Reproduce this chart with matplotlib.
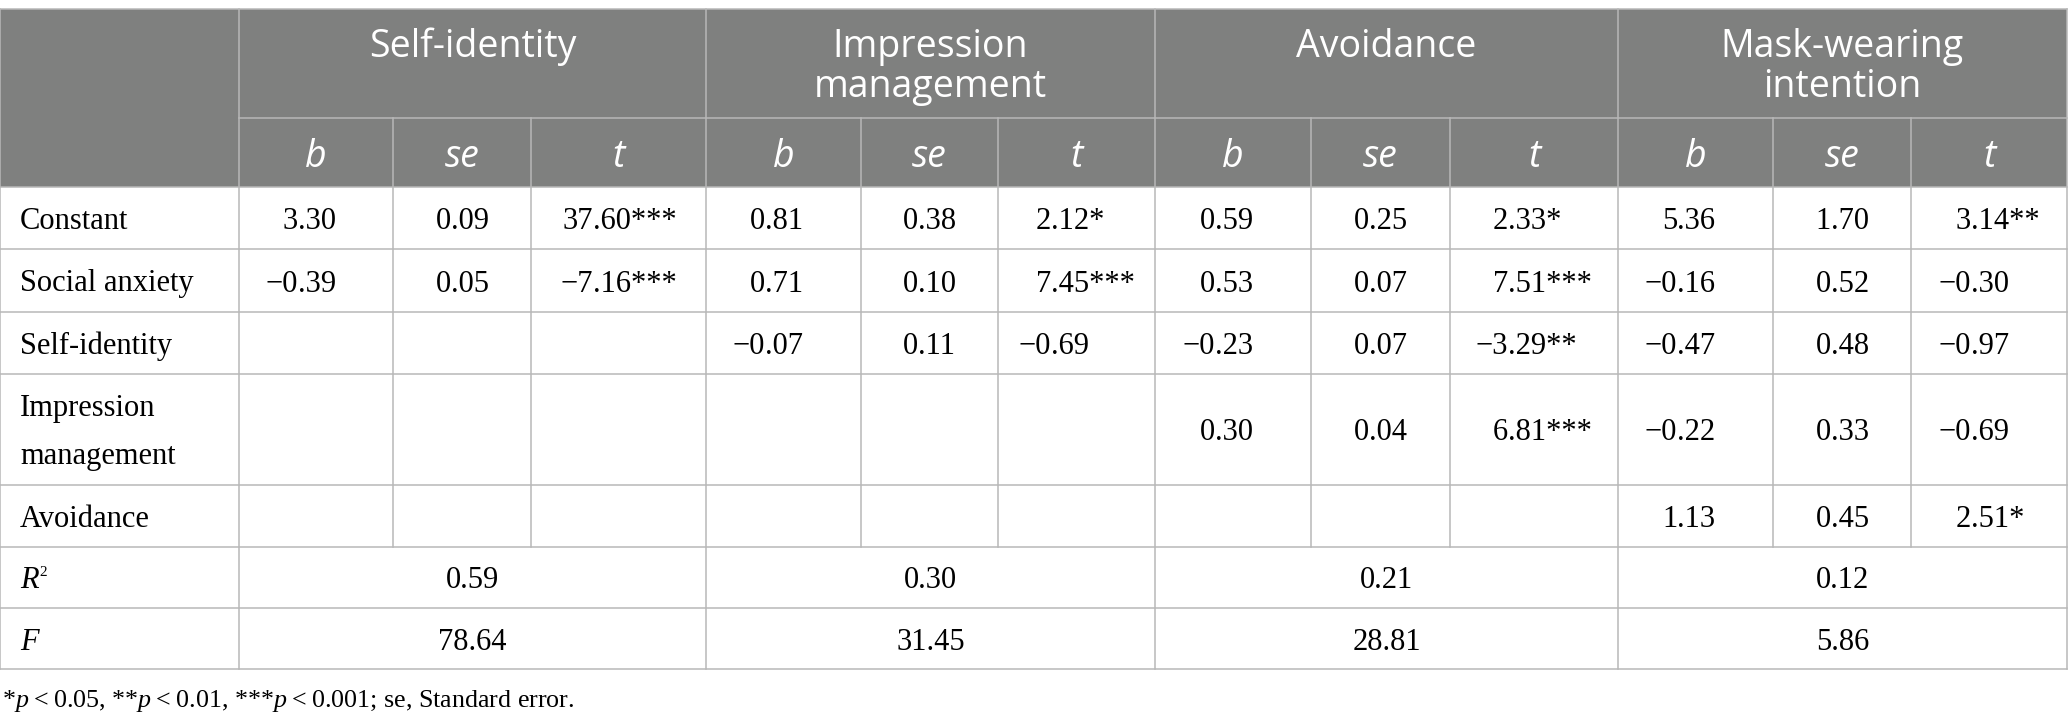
import matplotlib.pyplot as plt
from matplotlib.patches import Rectangle

plt.rcParams['mathtext.fontset'] = 'custom'
plt.rcParams['mathtext.rm'] = 'Liberation Serif'
plt.rcParams['mathtext.it'] = 'Liberation Serif:italic'

# table content
outcomes = ["Self-identity", "Impression\nmanagement", "Avoidance", "Mask-wearing\nintention"]
stat_names = ["b", "se", "t"]
predictors = ["Constant", "Social anxiety", "Self-identity", "Impression\nmanagement", "Avoidance"]

# None = predictor not in that model
self_b = [3.30, -0.39, None, None, None]
self_se = [0.09, 0.05, None, None, None]
self_t = [37.60, -7.16, None, None, None]
self_stars = [3, 3, 0, 0, 0]

impr_b = [0.81, 0.71, -0.07, None, None]
impr_se = [0.38, 0.10, 0.11, None, None]
impr_t = [2.12, 7.45, -0.69, None, None]
impr_stars = [1, 3, 0, 0, 0]

avoid_b = [0.59, 0.53, -0.23, 0.30, None]
avoid_se = [0.25, 0.07, 0.07, 0.04, None]
avoid_t = [2.33, 7.51, -3.29, 6.81, None]
avoid_stars = [1, 3, 2, 3, 0]

mask_b = [5.36, -0.16, -0.47, -0.22, 1.13]
mask_se = [1.70, 0.52, 0.48, 0.33, 0.45]
mask_t = [3.14, -0.30, -0.97, -0.69, 2.51]
mask_stars = [2, 0, 0, 0, 1]

r_squared = [0.59, 0.30, 0.21, 0.12]
f_values = [78.64, 31.45, 28.81, 5.86]

footnote = "*$p$\u2009<\u20090.05, **$p$\u2009<\u20090.01, ***$p$\u2009<\u20090.001; se, Standard error."

columns = [
    (self_b, None), (self_se, None), (self_t, self_stars),
    (impr_b, None), (impr_se, None), (impr_t, impr_stars),
    (avoid_b, None), (avoid_se, None), (avoid_t, avoid_stars),
    (mask_b, None), (mask_se, None), (mask_t, mask_stars),
]

# layout (pixels)
W, H = 2068, 728
col_x = [0, 239, 393, 531, 706, 861, 998, 1155, 1311, 1450, 1618, 1773, 1911, 2067]
row_y = [9, 118, 187, 249, 312, 374, 485, 547, 608, 669]
head_bg = "#7f807f"
grid = "#b8b8b8"
lw = 1.1
serif = "Liberation Serif"
sans = "Open Sans"
body_fs = 22
head_fs = 27
note_fs = 18.7

fig = plt.figure(figsize=(W / 100, H / 100), dpi=100)
ax = fig.add_axes([0, 0, 1, 1])
ax.set_xlim(0, W)
ax.set_ylim(H, 0)
ax.axis("off")
r = fig.canvas.get_renderer()


def fmt(v, n=0):
    return f"{v:.2f}".replace("-", "\u2212") + "*" * n


def text_w(s, **kw):
    t = ax.text(0, 0, s, **kw)
    w = t.get_window_extent(r).width
    t.remove()
    return w


# header background
ax.add_patch(Rectangle((0, row_y[0]), col_x[-1], row_y[2] - row_y[0], color=head_bg, lw=0))

# horizontal lines
ax.plot([0, col_x[-1]], [row_y[0]] * 2, color=grid, lw=lw)
ax.plot([col_x[1], col_x[-1]], [row_y[1]] * 2, color=grid, lw=lw)
for y in row_y[2:]:
    ax.plot([0, col_x[-1]], [y, y], color=grid, lw=lw)

# vertical lines
group_x = col_x[1::3]
for x in [0] + group_x:
    ax.plot([x, x], [row_y[0], row_y[-1]], color=grid, lw=lw)
for i, x in enumerate(col_x[1:-1]):
    if i % 3 != 0:
        ax.plot([x, x], [row_y[1], row_y[7]], color=grid, lw=lw)

# header texts
for g, name in enumerate(outcomes):
    cx = (group_x[g] + group_x[g + 1]) / 2
    for k, line in enumerate(name.split("\n")):
        ax.text(cx, 57 + 40 * k, line, ha="center", va="baseline",
                color="white", fontsize=head_fs, family=sans)
    for j, s in enumerate(stat_names):
        c = 1 + 3 * g + j
        ax.text((col_x[c] + col_x[c + 1]) / 2, 167, s, ha="center", va="baseline",
                color="white", fontsize=head_fs, family=sans, style="italic")

# predictor labels
for i, lab in enumerate(predictors):
    y0, y1 = row_y[2 + i], row_y[3 + i]
    lines = lab.split("\n")
    if len(lines) == 1:
        ax.text(20, (y0 + y1) / 2 + 11, lab, ha="left", va="baseline",
                fontsize=body_fs, family=serif)
    else:
        for k, line in enumerate(lines):
            ax.text(20, 416 + 48 * k, line, ha="left", va="baseline",
                    fontsize=body_fs, family=serif)

# body values, aligned on the decimal point
for c, (vals, stars) in enumerate(columns):
    strs = [None if v is None else fmt(v, stars[i] if stars else 0) for i, v in enumerate(vals)]
    ints = [s.split(".")[0] for s in strs if s]
    fracs = ["." + s.split(".")[1] for s in strs if s]
    wi = max(text_w(s, fontsize=body_fs, family=serif) for s in ints)
    wf = max(text_w(s, fontsize=body_fs, family=serif) for s in fracs)
    if c % 3 == 0:
        wf += text_w("**", fontsize=body_fs, family=serif)
    cx = (col_x[c + 1] + col_x[c + 2]) / 2
    anchor = cx - (wf - wi) / 2
    for i, s in enumerate(strs):
        if s is None:
            continue
        yb = (row_y[2 + i] + row_y[3 + i]) / 2 + 11
        a, b = s.split(".")
        ax.text(anchor, yb, a, ha="right", va="baseline", fontsize=body_fs, family=serif)
        ax.text(anchor, yb, "." + b, ha="left", va="baseline", fontsize=body_fs, family=serif)

# R2 and F rows
for k, vals in enumerate([r_squared, f_values]):
    yb = (row_y[7 + k] + row_y[8 + k]) / 2 + 11
    for g, v in enumerate(vals):
        ax.text((group_x[g] + group_x[g + 1]) / 2, yb, fmt(v), ha="center",
                va="baseline", fontsize=body_fs, family=serif)
yb_r2 = (row_y[7] + row_y[8]) / 2 + 11
t = ax.text(20, yb_r2, "R", ha="left", va="baseline", fontsize=body_fs,
            family=serif, style="italic")
ax.text(20 + t.get_window_extent(r).width + 1, yb_r2 - 12, "2", ha="left",
        va="baseline", fontsize=body_fs * 0.5, family=serif)
ax.text(20, (row_y[8] + row_y[9]) / 2 + 11, "F", ha="left", va="baseline",
        fontsize=body_fs, family=serif, style="italic")

ax.text(2, 707, footnote, ha="left", va="baseline", fontsize=note_fs, family=serif)

fig.savefig("out.png", dpi=100)
